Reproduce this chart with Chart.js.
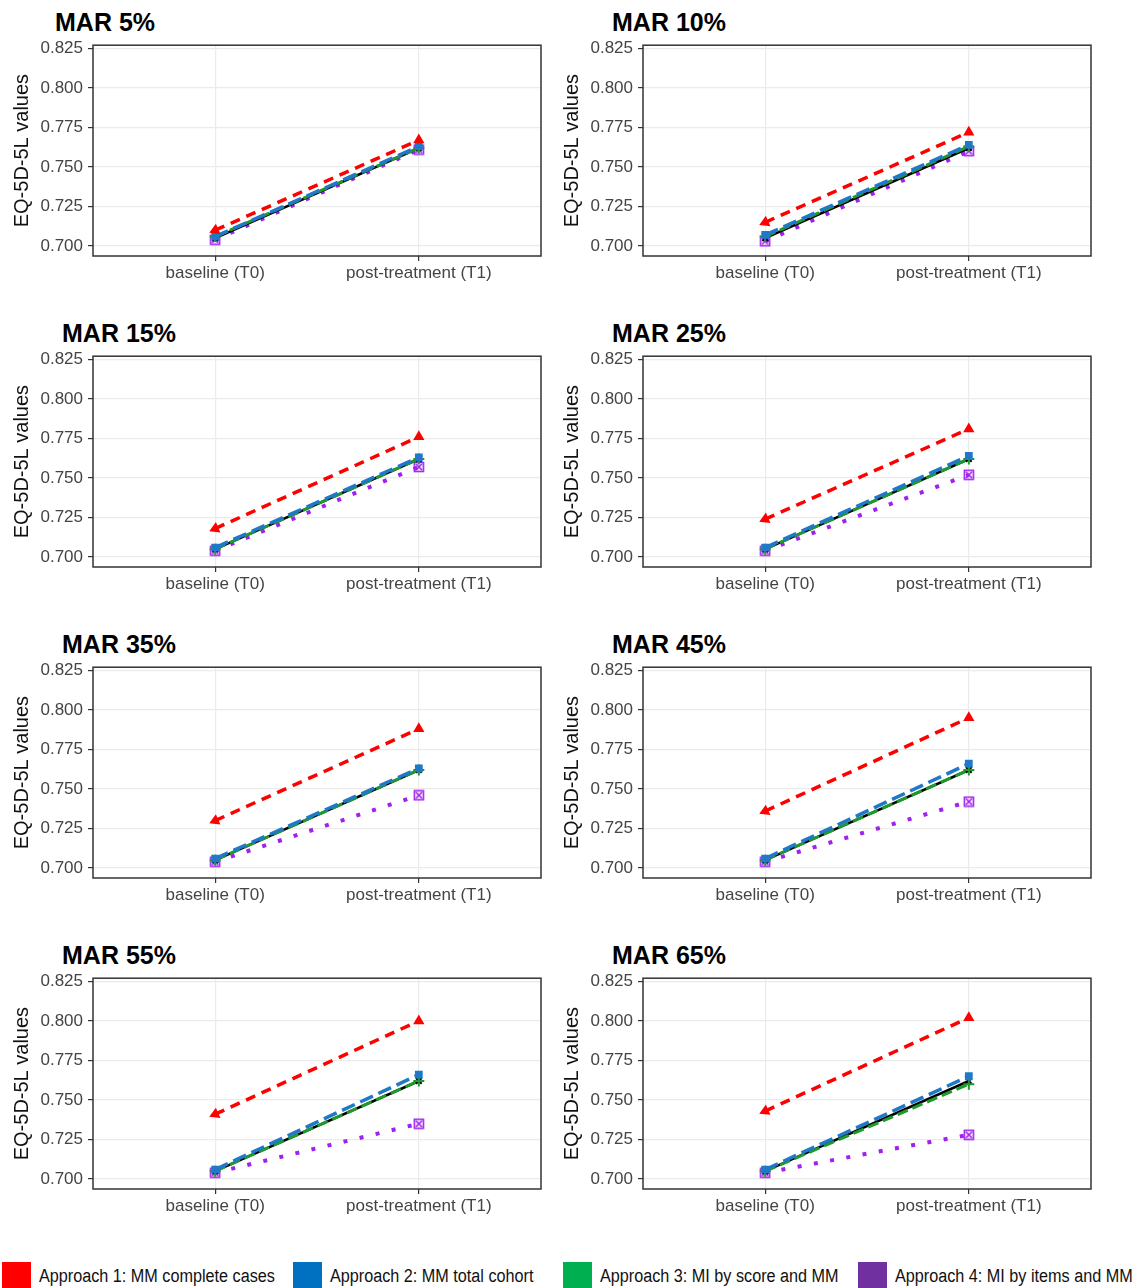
<!DOCTYPE html>
<html>
<head>
<meta charset="utf-8">
<script src="https://cdn.jsdelivr.net/npm/chart.js@4/dist/chart.umd.min.js"></script>
<style>
  body { margin: 0; background: #fff; width: 1139px; height: 1288px; position: relative; overflow: hidden; font-family: "Liberation Sans", Arial, sans-serif; }
  .panel { position: absolute; width: 555px; height: 261px; }
  .title { position: absolute; font-weight: bold; font-size: 25px; color: #000; line-height: 1; }
  .legend { position: absolute; top: 1262px; display: flex; align-items: center; font-size: 18px; color: #111; white-space: nowrap; }
  .legend span.sw { display: inline-block; width: 29px; height: 28px; margin-right: 8px; }
  .legend span.tx { display: inline-block; transform: scaleX(0.9); transform-origin: left center; }
</style>
</head>
<body>
<div id="root"></div>
<script>
const panelTitles = ['MAR 5%', 'MAR 10%', 'MAR 15%', 'MAR 25%', 'MAR 35%', 'MAR 45%', 'MAR 55%', 'MAR 65%'];
const timepoints = ['baseline (T0)', 'post-treatment (T1)'];
const yTicks = [0.700, 0.725, 0.750, 0.775, 0.800, 0.825];

// [T0, T1] per panel
const approach1 = [[0.710, 0.767], [0.715, 0.772], [0.718, 0.776], [0.724, 0.781], [0.730, 0.788], [0.736, 0.795], [0.741, 0.800], [0.743, 0.802]];
const approach2 = [[0.706, 0.763], [0.707, 0.764], [0.706, 0.763], [0.706, 0.764], [0.706, 0.763], [0.706, 0.766], [0.706, 0.766], [0.706, 0.765]];
const approach3 = [[0.706, 0.762], [0.706, 0.763], [0.705, 0.762], [0.705, 0.762], [0.705, 0.762], [0.705, 0.762], [0.705, 0.762], [0.705, 0.760]];
const approach4 = [[0.704, 0.761], [0.703, 0.760], [0.704, 0.757], [0.704, 0.752], [0.704, 0.746], [0.704, 0.742], [0.704, 0.735], [0.704, 0.728]];
const fullData  = [[0.705, 0.762], [0.705, 0.762], [0.705, 0.762], [0.705, 0.762], [0.705, 0.762], [0.705, 0.762], [0.705, 0.762], [0.705, 0.762]];

const legendItems = ['Approach 1: MM complete cases', 'Approach 2: MM total cohort', 'Approach 3: MI by score and MM', 'Approach 4: MI by items and MM'];
const legendColors = ['#ff0000', '#0070c0', '#00b050', '#7030a0'];

const root = document.getElementById('root');

// square with an X, like ggplot shape 7
const sqCross = document.createElement('canvas');
sqCross.width = 12; sqCross.height = 12;
(function () {
  const c = sqCross.getContext('2d');
  c.strokeStyle = '#a020f0'; c.lineWidth = 1.6;
  c.strokeRect(1.5, 1.5, 9, 9);
  c.beginPath();
  c.moveTo(3, 3); c.lineTo(9, 9);
  c.moveTo(9, 3); c.lineTo(3, 9);
  c.stroke();
})();

const frame = {
  id: 'frame',
  afterDatasetsDraw(chart) {
    const a = chart.chartArea, ctx = chart.ctx;
    ctx.save();
    ctx.strokeStyle = '#333';
    ctx.lineWidth = 1.5;
    ctx.strokeRect(a.left, a.top, a.right - a.left, a.bottom - a.top);
    ctx.restore();
  }
};

const pts = arr => arr.map((v, i) => ({ x: i + 1, y: v }));

panelTitles.forEach((title, p) => {
  const row = Math.floor(p / 2), col = p % 2;
  const top = 30 + 311 * row;
  const left = col === 0 ? 0 : 550;

  const t = document.createElement('div');
  t.className = 'title';
  t.textContent = title;
  t.style.left = (col === 0 ? (row === 0 ? 55 : 62) : 612) + 'px';
  t.style.top = (10 + 311 * row) + 'px';
  root.appendChild(t);

  const box = document.createElement('div');
  box.className = 'panel';
  box.style.left = left + 'px';
  box.style.top = top + 'px';
  const cv = document.createElement('canvas');
  box.appendChild(cv);
  root.appendChild(box);

  // first dataset is drawn on top
  new Chart(cv.getContext('2d'), {
    type: 'line',
    data: {
      datasets: [
        { data: pts(approach1[p]), borderColor: '#ff0000', backgroundColor: '#ff0000', borderWidth: 3.5, borderDash: [10, 7],
          pointStyle: 'triangle', pointRadius: 6.5, pointRotation: [246, 0], pointBorderWidth: 0 },
        { data: pts(approach2[p]), borderColor: '#1f78c8', backgroundColor: '#1f78c8', borderWidth: 3.5, borderDash: [14, 6],
          pointStyle: 'rect', pointRadius: 5.5, pointBorderWidth: 0 },
        { data: pts(approach3[p]), borderColor: '#1e9a2a', backgroundColor: '#1e9a2a', borderWidth: 3, borderDash: [11, 5],
          pointStyle: 'cross', pointRadius: 5.5, pointBorderWidth: 2 },
        { data: pts(fullData[p]), borderColor: '#000', backgroundColor: '#000', borderWidth: 2.5,
          pointStyle: 'crossRot', pointRadius: 4, pointBorderWidth: 2 },
        { data: pts(approach4[p]), borderColor: '#a020f0', backgroundColor: '#a020f0', borderWidth: 4, borderDash: [4, 12.5],
          pointStyle: sqCross, pointRadius: 6 }
      ]
    },
    options: {
      responsive: true,
      maintainAspectRatio: false,
      animation: false,
      layout: { padding: { top: 4, right: 14, bottom: 0, left: 0 } },
      plugins: { legend: { display: false }, tooltip: { enabled: false } },
      scales: {
        x: {
          type: 'linear', min: 0.4, max: 2.6,
          afterBuildTicks: s => { s.ticks = timepoints.map((_, i) => ({ value: i + 1 })); },
          afterFit: s => { s.height = 35; },
          ticks: { callback: v => timepoints[v - 1], color: '#444', font: { size: 17, family: 'Liberation Sans' }, padding: 2, maxRotation: 0 },
          grid: { color: '#ebebeb', lineWidth: 1.2, tickLength: 5, tickColor: '#333' },
          border: { display: false }
        },
        y: {
          min: 0.6937, max: 0.827,
          afterBuildTicks: s => { s.ticks = []; for (let i = 0; i <= 10; i++) s.ticks.push({ value: yTicks[0] + i * 0.0125 }); },
          afterFit: s => { s.width = 93; },
          ticks: { callback: (v, i) => i % 2 === 0 ? yTicks[i / 2].toFixed(3) : '', color: '#444', font: { size: 17, family: 'Liberation Sans' }, padding: 5 },
          grid: {
            color: c => c.index % 2 === 0 ? '#ebebeb' : '#f3f3f3',
            lineWidth: c => c.index % 2 === 0 ? 1.2 : 0.7,
            tickLength: 5,
            tickColor: c => c.index % 2 === 0 ? '#333' : 'rgba(0,0,0,0)'
          },
          border: { display: false },
          title: { display: true, text: 'EQ-5D-5L values', color: '#111', font: { size: 20, family: 'Liberation Sans' }, padding: { top: 10, bottom: 0 } }
        }
      }
    },
    plugins: [frame]
  });
});

const lefts = [2, 293, 563, 858];
legendItems.forEach((txt, i) => {
  const d = document.createElement('div');
  d.className = 'legend';
  d.style.left = lefts[i] + 'px';
  d.innerHTML = '<span class="sw" style="background:' + legendColors[i] + '"></span><span class="tx">' + txt + '</span>';
  root.appendChild(d);
});
</script>
</body>
</html>
